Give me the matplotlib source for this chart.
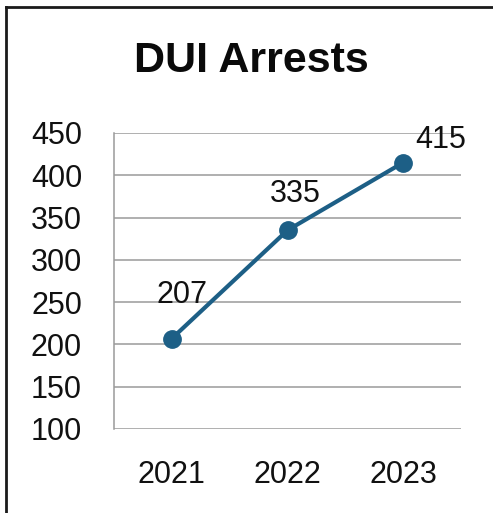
import matplotlib
matplotlib.use("Agg")
import matplotlib.pyplot as plt
from matplotlib.lines import Line2D

years = ["2021", "2022", "2023"]
arrests = [207, 335, 415]
yticks = [100, 150, 200, 250, 300, 350, 400, 450]

plt.rcParams['font.family'] = ['Liberation Sans', 'DejaVu Sans']

fig = plt.figure(figsize=(4.93, 5.13), dpi=100)
ax = fig.add_axes([114/493, 1-429/513, 347/493, 296/513])

x = list(range(len(years)))
color = '#1d5f86'
ax.plot(x, arrests, color=color, lw=3, marker='o', ms=12.5, zorder=3)
# label offsets in pixels (dx, dy) relative to each point
label_offsets = [(10, 44), (8, 36), (38, 23)]
for xi, v, (dx, dy) in zip(x, arrests, label_offsets):
    ax.annotate(str(v), (xi, v), xytext=(dx, dy), textcoords='offset pixels',
                ha='center', va='center', fontsize=22, color='#111111')

ax.set_xlim(-0.5, 2.5)
ax.set_ylim(100, 450)
ax.set_yticks(yticks)
ax.set_xticks(x)
ax.set_xticklabels(years)
ax.grid(axis='y', color='#9a9a9a', lw=1.1)
ax.set_axisbelow(True)
for s in ['top', 'right', 'bottom']:
    ax.spines[s].set_visible(False)
ax.spines['left'].set_color('#9a9a9a')
ax.spines['left'].set_linewidth(1.1)
ax.tick_params(axis='both', length=0, labelsize=22, colors='#111111')
ax.tick_params(axis='y', pad=23)
ax.tick_params(axis='x', pad=22)

fig.text(251/493, 1-61.5/513, "DUI Arrests", ha='center', va='center',
         fontsize=31, fontweight='bold', color='#0a0a0a')

# partial frame (top and left)
fig.add_artist(Line2D([6/493, 6/493], [0, 1-7/513], transform=fig.transFigure,
                      color='#1a1a1a', lw=2))
fig.add_artist(Line2D([6/493, 1], [1-7/513, 1-7/513], transform=fig.transFigure,
                      color='#1a1a1a', lw=2))

fig.savefig("out.png", dpi=100)
